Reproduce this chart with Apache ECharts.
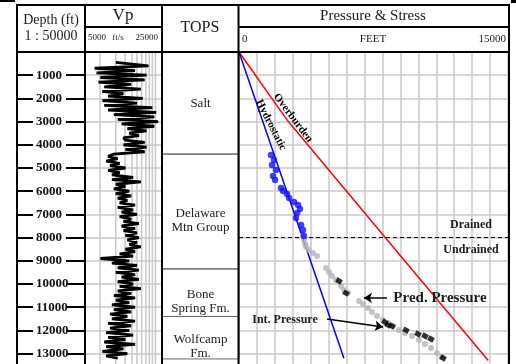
<!DOCTYPE html>
<html>
<head>
<meta charset="utf-8">
<script src="https://cdn.jsdelivr.net/npm/echarts@6/dist/echarts.min.js"></script>
<style>
html, body { margin: 0; padding: 0; background: #fff; }
#chart { width: 516px; height: 364px; }
</style>
</head>
<body>
<div id="chart"></div>
<script>
// Vp log (depth ft, velocity ft/s)
const vpDepth = [450, 500, 600, 700, 800, 900, 1000, 1100, 1200, 1300, 1400, 1500, 1600, 1700, 1800, 1900, 2000, 2100, 2200, 2300, 2400, 2500, 2600, 2700, 2800, 2900, 3000, 3100, 3200, 3300,
    3400, 3500, 3600, 3700, 3800, 3900, 4000, 4100, 4200, 4300, 4400,
    4500, 4600, 4700, 4800, 4900, 5000, 5100, 5200, 5300, 5400, 5500, 5600, 5700, 5800, 5900, 6000, 6100, 6200, 6300, 6400, 6500, 6600, 6700, 6800, 6900, 7000,
    7100, 7200, 7300, 7400, 7500, 7600, 7700, 7800, 7900, 8000, 8100, 8200, 8300, 8400, 8500, 8600, 8700, 8800, 8900, 9000,
    9100, 9200, 9300, 9400, 9500, 9600, 9700, 9800, 9900, 10000, 10100, 10200, 10300, 10400, 10500, 10600, 10700, 10800, 10900, 11000,
    11100, 11200, 11300, 11400, 11500, 11600, 11700, 11800, 11900, 12000, 12100, 12200, 12300, 12400, 12500, 12600, 12700, 12800, 12900, 13000, 13100, 13200]
const vpValue = [13000, 16000, 21500, 7500, 18000, 8000, 21000, 9000, 20500, 8500, 17000, 10000, 19500, 9500, 15000, 11000, 20000, 9500, 18500, 10000, 22500, 11000, 23500, 12500, 23000, 13500, 24000, 14500, 23000, 16000,
    21000, 16500, 19000, 15000, 15500, 20500, 15000, 21000, 15500, 20500, 12500,
    11000, 13500, 10500, 14000, 11500, 15500, 11000, 14000, 12000, 17500, 12000, 19500, 13000, 15500, 12500, 16500, 13000, 17000, 13500, 16000, 14000, 18000, 13500, 17500, 14500, 18500,
    14000, 17000, 15000, 19000, 14500, 18000, 15000, 18500, 15500, 19000, 16000, 18500, 16500, 19500, 15500, 18000, 14000, 17500, 9000, 16500,
    12000, 18500, 13500, 19000, 13000, 18000, 14500, 19000, 13500, 17500, 14000, 19500, 13500, 17000, 12500, 18000, 13000, 16500, 12000, 18000,
    12500, 17000, 11500, 16000, 12000, 18000, 11000, 17000, 11500, 16500, 10500, 17500, 11000, 15500, 10000, 18000, 10500, 15000, 9500, 16000, 10500, 13500]
const vpGridLines = [8900, 13000, 15400, 17200, 18500, 19700, 20800, 21700, 22500, 23300]

// formation tops (ft)
const topsNames = ['Salt', 'Delaware\nMtn Group', 'Bone\nSpring Fm.', 'Wolfcamp\nFm.']
const topsTop = [0, 4400, 9350, 11400]
const topsBase = [4400, 9350, 11400, 13230]

// pressure & stress track, [pressure ft, depth ft]
const overburden = [[0, 0], [2750, 3000], [8700, 8500], [13900, 13300]]
const hydrostatic = [[0, 0], [5850, 13200]]
const drainedPressure = [[1785, 4440], [1950, 4655], [1840, 4870], [2060, 5090], [1895, 5345], [2010, 5520], [2340, 5860], [2455, 5990],
    [2680, 6120], [2790, 6290], [3070, 6465], [3290, 6595], [3400, 6770], [3235, 6940], [3180, 7155], [3460, 7455], [3570, 7670], [3625, 7930]]
const predPressure = [[3570, 7930], [3625, 8100], [3680, 8280], [3740, 8405], [3900, 8535], [4125, 8665], [4350, 8795], [4850, 9310], [5020, 9480],
    [5185, 9655], [5410, 9830], [5690, 10085], [5855, 10260], [6080, 10390], [6690, 10730], [6915, 10860], [7195, 11035], [7415, 11205], [7695, 11380],
    [8030, 11550], [8310, 11680], [8585, 11810], [8920, 11985], [9255, 12110], [9645, 12240], [10035, 12415], [10370, 12585], [10705, 12760], [11040, 12975], [11320, 13145]]
const intPressure = [[5575, 9870], [5965, 10390], [8140, 11640], [8310, 11770], [8530, 11810], [9310, 11985], [9980, 12155], [10370, 12240], [10705, 12370], [11375, 13190]]
const drainedBase = 8000

const serif = 'Liberation Serif'
const gridTop = 52
const depthMax = 14000
const gridHeight = 324.8
const gridGray = '#c8c8c8'

const chart = echarts.init(document.getElementById('chart'))

function depthAxis(gridIndex, extra) {
    return Object.assign({
        type: 'value', gridIndex: gridIndex, inverse: true, min: 0, max: depthMax, interval: 1000,
        axisLine: { show: false }, axisTick: { show: false }, axisLabel: { show: false }, splitLine: { show: false }
    }, extra)
}
function plainX(gridIndex, extra) {
    return Object.assign({
        type: 'value', gridIndex: gridIndex,
        axisLine: { show: false }, axisTick: { show: false }, axisLabel: { show: false }, splitLine: { show: false }
    }, extra)
}

function hline(x1, y1, x2, y2) {
    return { type: 'line', z: 100, shape: { x1, y1, x2, y2 }, style: { stroke: '#000', lineWidth: 2 } }
}
function htext(x, y, text, size, align, weight) {
    return {
        type: 'text', z: 100, x: x, y: y,
        style: { text: text, fill: '#1a1a1a', font: (weight || 'normal') + ' ' + size + 'px "' + serif + '"', textAlign: align || 'center', textVerticalAlign: 'middle' }
    }
}
function rtext(x, y, text, size, angle) {
    return {
        type: 'text', z: 100, x: x, y: y, rotation: angle * Math.PI / 180,
        style: { text: text, fill: '#000', font: 'bold ' + size + 'px "' + serif + '"', textAlign: 'center', textVerticalAlign: 'middle' }
    }
}

const option = {
    animation: false,
    grid: [
        { left: 17, top: gridTop, width: 68, height: gridHeight, outerBoundsMode: 'none' },
        { left: 85, top: gridTop, width: 77, height: gridHeight, outerBoundsMode: 'none' },
        { left: 162, top: gridTop, width: 77, height: gridHeight, outerBoundsMode: 'none' },
        { left: 239, top: gridTop, width: 269, height: gridHeight, outerBoundsMode: 'none' }
    ],
    xAxis: [
        plainX(0, { min: 0, max: 1 }),
        plainX(1, { min: 5000, max: 25000 }),
        plainX(2, { min: 0, max: 1 }),
        plainX(3, { min: 0, max: 15000, interval: 1000, splitLine: { show: true, lineStyle: { color: gridGray, width: 1.5 } } })
    ],
    yAxis: [
        depthAxis(0, {
            position: 'left',
            axisTick: { show: true, inside: true, length: 16, lineStyle: { color: '#000', width: 2 } },
            axisLabel: {
                show: true, inside: true, margin: 19, align: 'left', color: '#111', fontFamily: serif, fontWeight: 'bold', fontSize: 13,
                formatter: v => v === 0 ? '' : String(v)
            }
        }),
        depthAxis(0, { position: 'right', axisTick: { show: true, inside: true, length: 19, lineStyle: { color: '#000', width: 2 } } }),
        depthAxis(1, { splitLine: { show: true, lineStyle: { color: gridGray, width: 1.5 } } }),
        depthAxis(2),
        depthAxis(3, { splitLine: { show: true, lineStyle: { color: gridGray, width: 1.5 } } })
    ],
    series: [
        ...vpGridLines.map(v => ({
            type: 'line', xAxisIndex: 1, yAxisIndex: 2, z: 1, silent: true, showSymbol: false,
            data: [[v, 0], [v, depthMax]], lineStyle: { color: gridGray, width: 1.5 }
        })),
        {
            name: 'Vp', type: 'line', xAxisIndex: 1, yAxisIndex: 2, z: 3, showSymbol: false,
            data: vpDepth.map((d, i) => [vpValue[i], d]),
            lineStyle: { color: '#000', width: 2.8 }
        },
        {
            name: 'TOPS', type: 'line', xAxisIndex: 2, yAxisIndex: 3, showSymbol: false,
            data: topsTop.map(d => [0.5, d]), lineStyle: { opacity: 0 },
            markArea: {
                silent: true,
                itemStyle: { color: 'rgba(0,0,0,0)', borderColor: '#666', borderWidth: 1 },
                label: { position: 'inside', offset: [0, 9], color: '#222', fontFamily: serif, fontSize: 13, lineHeight: 14 },
                data: topsNames.map((n, i) => [
                    { name: n, yAxis: topsTop[i], label: i === 0 ? { offset: [0, 1] } : undefined },
                    { yAxis: topsBase[i] }
                ])
            }
        },
        {
            name: 'Overburden', type: 'line', xAxisIndex: 3, yAxisIndex: 4, z: 4, showSymbol: false,
            data: overburden, lineStyle: { color: '#ff0000', width: 1.5 }
        },
        {
            name: 'Hydrostatic', type: 'line', xAxisIndex: 3, yAxisIndex: 4, z: 4, showSymbol: false,
            data: hydrostatic, lineStyle: { color: '#0000ff', width: 1.5 },
            markLine: {
                silent: true, symbol: 'none', label: { show: false },
                lineStyle: { color: '#000', type: [4, 3], width: 1 },
                data: [{ yAxis: drainedBase }]
            }
        },
        {
            name: 'Pred. Pressure', type: 'scatter', xAxisIndex: 3, yAxisIndex: 4, z: 5,
            data: predPressure, symbol: 'circle', symbolSize: 6, itemStyle: { color: '#b4b4b4' },
            markLine: {
                silent: true, symbol: ['none', 'arrow'], symbolSize: 8, label: { show: false },
                lineStyle: { color: '#000', type: 'solid', width: 1.5 },
                data: [
                    [{ coord: [8250, 10600] }, { coord: [6970, 10600] }],
                    [{ coord: [4910, 11510] }, { coord: [8030, 11850] }]
                ]
            }
        },
        {
            name: 'Drained', type: 'scatter', xAxisIndex: 3, yAxisIndex: 4, z: 6,
            data: drainedPressure, symbol: 'circle', symbolSize: 6.5, itemStyle: { color: '#1010ff' }
        },
        {
            name: 'Int. Pressure', type: 'scatter', xAxisIndex: 3, yAxisIndex: 4, z: 6,
            data: intPressure, symbol: 'rect', symbolSize: [6, 5], symbolRotate: -30, itemStyle: { color: '#000' }
        }
    ],
    graphic: [
        { type: 'rect', z: 100, shape: { x: 0, y: 0, width: 15, height: 2 }, style: { fill: '#000' } },
        { type: 'rect', z: 100, shape: { x: 511, y: 0, width: 5, height: 3 }, style: { fill: '#000' } },
        { type: 'rect', z: 100, shape: { x: 17, y: 5, width: 492, height: 380 }, style: { fill: null, stroke: '#000', lineWidth: 2 } },
        hline(85, 5, 85, 380),
        hline(162, 5, 162, 380),
        hline(238.5, 5, 238.5, 380),
        hline(17, 52, 509, 52),
        hline(85, 27, 162, 27),
        hline(238.5, 27, 509, 27),
        htext(51, 20, 'Depth (ft)', 14),
        htext(51, 36, '1 : 50000', 14),
        htext(123, 16, 'Vp', 17),
        htext(88, 38, '5000', 9, 'left'),
        htext(118, 38, 'ft/s', 9, 'center'),
        htext(158, 38, '25000', 9, 'right'),
        htext(200, 28, 'TOPS', 16),
        htext(373, 16, 'Pressure & Stress', 15),
        htext(242, 39, '0', 11, 'left'),
        htext(373, 39, 'FEET', 11),
        htext(506, 39, '15000', 11, 'right'),
        rtext(293, 118, 'Overburden', 11, -53),
        rtext(271, 125, 'Hydrostatic', 11, -63),
        htext(471, 225, 'Drained', 12, 'center', 'bold'),
        htext(471, 250, 'Undrained', 12, 'center', 'bold'),
        htext(440, 298, 'Pred. Pressure', 15, 'center', 'bold'),
        htext(285, 320, 'Int. Pressure', 12, 'center', 'bold')
    ]
}

chart.setOption(option)
window.addEventListener('resize', () => {
    chart.resize()
})
</script>
</body>
</html>
